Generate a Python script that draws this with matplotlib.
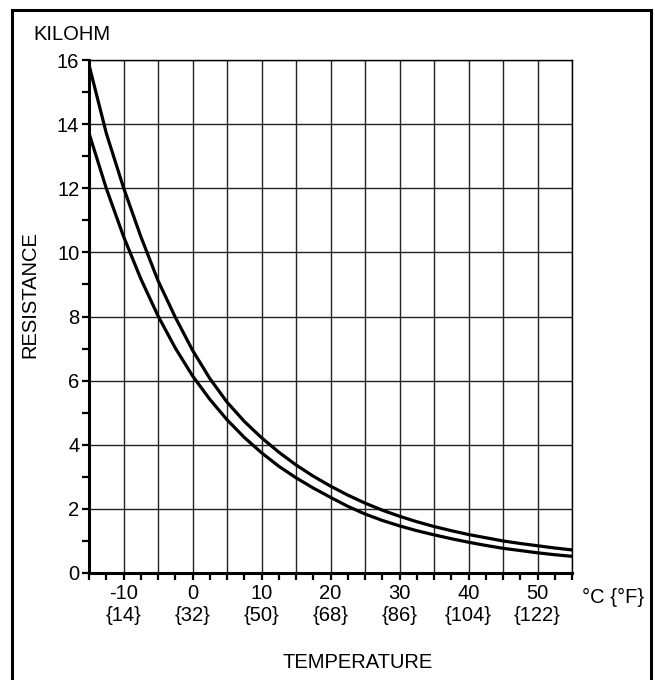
import matplotlib
matplotlib.use('Agg')
import matplotlib.pyplot as plt
import matplotlib.ticker as mtick
from matplotlib.patches import Rectangle

plt.rcParams['font.family'] = ['Liberation Sans', 'DejaVu Sans']
plt.rcParams['font.size'] = 14.5

temp_c = [-15, -12.5, -10, -7.5, -5, -2.5, 0, 2.5, 5, 7.5, 10, 12.5, 15, 17.5, 20, 22.5, 25,
          27.5, 30, 32.5, 35, 37.5, 40, 42.5, 45, 47.5, 50, 52.5, 55]
res_upper = [15.85, 13.72, 12.02, 10.5, 9.12, 7.98, 6.95, 6.07, 5.33, 4.73, 4.22, 3.77, 3.37,
             3.02, 2.71, 2.43, 2.18, 1.96, 1.77, 1.6, 1.45, 1.32, 1.2, 1.1, 1.0, 0.92, 0.85,
             0.78, 0.72]
res_lower = [13.72, 12.0, 10.5, 9.18, 8.02, 7.02, 6.15, 5.42, 4.78, 4.23, 3.75, 3.33, 2.97,
             2.65, 2.36, 2.08, 1.84, 1.64, 1.47, 1.32, 1.19, 1.07, 0.96, 0.86, 0.77, 0.7, 0.63,
             0.57, 0.52]

label_c = [-10, 0, 10, 20, 30, 40, 50]
label_f = [14, 32, 50, 68, 86, 104, 122]
y_ticks = [0, 2, 4, 6, 8, 10, 12, 14, 16]

W, H = 655, 680
fig = plt.figure(figsize=(W / 100, H / 100), dpi=100)

# outer frame (bottom edge runs off the picture)
fig.patches.append(Rectangle((12 / W, -0.05), (651 - 12) / W, 1.05 - 10 / H,
                             transform=fig.transFigure, fill=False, lw=2.2,
                             edgecolor='black', clip_on=False))

ax = fig.add_axes([89 / W, 1 - 573 / H, (572 - 89) / W, (573 - 60) / H])

ax.plot(temp_c, res_upper, color='black', lw=2.3, solid_joinstyle='round')
ax.plot(temp_c, res_lower, color='black', lw=2.3, solid_joinstyle='round')

ax.set_xlim(-15, 55)
ax.set_ylim(0, 16)

# x: grid every 5, ticks every 2.5, labels every 10 with Fahrenheit below
major_x = list(range(-15, 56, 5))
ax.set_xticks(major_x)
labels = []
for t in major_x:
    if t in label_c:
        i = label_c.index(t)
        labels.append(f'{label_c[i]}\n{{{label_f[i]}}}')
    else:
        labels.append('')
ax.set_xticklabels(labels, linespacing=1.2)
ax.xaxis.set_minor_locator(mtick.MultipleLocator(2.5))

ax.set_yticks(y_ticks)
ax.yaxis.set_minor_locator(mtick.MultipleLocator(1))

ax.grid(True, which='major', color='#222222', lw=1.0)
ax.tick_params(which='both', direction='out', length=5, width=1.6, color='black')
ax.tick_params(axis='x', which='both', pad=3)
ax.tick_params(axis='y', which='both', pad=2)

for side in ['left', 'bottom']:
    ax.spines[side].set_linewidth(2.2)
for side in ['top', 'right']:
    ax.spines[side].set_linewidth(1.0)

fig.text(33 / W, 1 - 34 / H, 'KILOHM', ha='left', va='center')
fig.text(30 / W, 1 - 295 / H, 'RESISTANCE', ha='center', va='center', rotation=90)
fig.text(358 / W, 1 - 663 / H, 'TEMPERATURE', ha='center', va='center')
fig.text(582 / W, 1 - 597 / H, '°C {°F}', ha='left', va='center')

fig.savefig('out.png', dpi=100)
